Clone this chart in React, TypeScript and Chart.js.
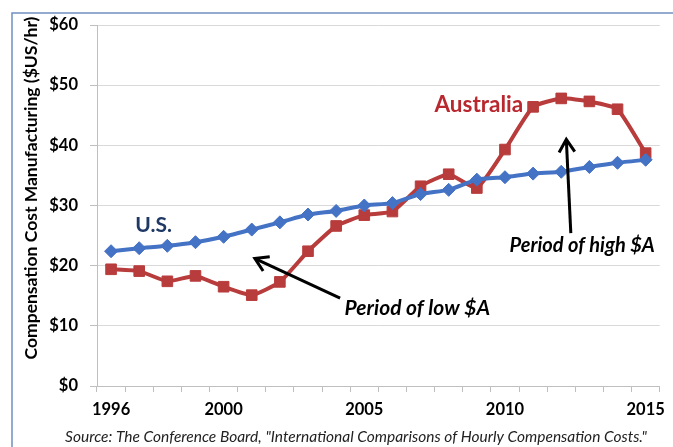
import React, { useEffect, useRef } from 'react';
import { Chart, registerables } from 'chart.js';

Chart.register(...registerables);

const years = ['1996','1997','1998','1999','2000','2001','2002','2003','2004','2005','2006','2007','2008','2009','2010','2011','2012','2013','2014','2015'];
const usValues = [22.4, 22.9, 23.3, 23.9, 24.8, 26.0, 27.2, 28.5, 29.1, 30.0, 30.4, 31.9, 32.6, 34.3, 34.7, 35.3, 35.6, 36.4, 37.1, 37.6];
const ausValues = [19.4, 19.1, 17.4, 18.3, 16.5, 15.1, 17.3, 22.4, 26.6, 28.4, 29.0, 33.2, 35.2, 32.9, 39.3, 46.4, 47.8, 47.3, 46.0, 38.7];
const shownYearLabels = ['1996', '2000', '2005', '2010', '2015'];
const yAxisTitle = 'Compensation Cost Manufacturing ($US/hr)';
const sourceText = 'Source: The Conference Board, "International Comparisons of Hourly Compensation Costs."';

// annotation anchors in data space (x = category index, y = value)
const textNotes = [
  { text: 'U.S.', x: 1.51, y: 26.8, align: 'center', font: 'bold 21px Lato', color: '#1F3864' },
  { text: 'Australia', x: 13.07, y: 46.7, align: 'center', font: 'bold 22.5px Lato', color: '#B8282E' },
  { text: 'Period of low $A', x: 8.3, y: 13.0, align: 'left', font: 'italic bold 21px Lato', color: '#000000' },
  { text: 'Period of high $A', x: 14.16, y: 23.4, align: 'left', font: 'italic bold 20px Lato', color: '#000000' },
];
const arrowNotes = [
  { x1: 8.14, y1: 14.6, x2: 5.11, y2: 21.2 },
  { x1: 16.34, y1: 25.4, x2: 16.18, y2: 41.0 },
];

const decorPlugin = {
  id: 'decor',
  beforeDraw(chart: any) {
    const ctx = chart.ctx;
    ctx.save();
    ctx.fillStyle = '#ffffff';
    ctx.fillRect(0, 0, chart.width, chart.height);
    ctx.strokeStyle = '#7090C0';
    ctx.lineWidth = 1.5;
    ctx.beginPath();
    ctx.moveTo(12, chart.height);
    ctx.lineTo(12, 13);
    ctx.lineTo(chart.width, 13);
    ctx.stroke();
    ctx.restore();
  },
  afterDraw(chart: any) {
    const ctx = chart.ctx;
    const xs = chart.scales.x;
    const ys = chart.scales.y;
    const px = (v: number) => xs.getPixelForValue(0) + v * (xs.getPixelForValue(1) - xs.getPixelForValue(0));
    const py = (v: number) => ys.getPixelForValue(v);
    ctx.save();
    ctx.translate(31, 188);
    ctx.rotate(-Math.PI / 2);
    ctx.font = 'bold 17.5px Lato';
    ctx.fillStyle = '#000000';
    ctx.textAlign = 'center';
    ctx.textBaseline = 'middle';
    ctx.fillText(yAxisTitle, 0, 0);
    ctx.restore();

    ctx.save();
    ctx.font = 'italic 15.5px Lato';
    ctx.fillStyle = '#222222';
    ctx.textAlign = 'center';
    ctx.textBaseline = 'middle';
    ctx.fillText(sourceText, 356, 437);
    ctx.restore();

    ctx.save();
    for (const n of textNotes) {
      ctx.font = n.font;
      ctx.fillStyle = n.color;
      ctx.textAlign = n.align;
      ctx.textBaseline = 'middle';
      ctx.fillText(n.text, px(n.x), py(n.y));
    }
    ctx.strokeStyle = '#000000';
    ctx.lineWidth = 3;
    ctx.lineCap = 'butt';
    ctx.lineJoin = 'miter';
    for (const a of arrowNotes) {
      const x1 = px(a.x1), y1 = py(a.y1), x2 = px(a.x2), y2 = py(a.y2);
      const ang = Math.atan2(y2 - y1, x2 - x1);
      ctx.beginPath();
      ctx.moveTo(x1, y1);
      ctx.lineTo(x2 - Math.cos(ang) * 2, y2 - Math.sin(ang) * 2);
      ctx.stroke();
      const L = 15, w = 0.55;
      ctx.beginPath();
      ctx.moveTo(x2 - L * Math.cos(ang - w), y2 - L * Math.sin(ang - w));
      ctx.lineTo(x2, y2);
      ctx.lineTo(x2 - L * Math.cos(ang + w), y2 - L * Math.sin(ang + w));
      ctx.stroke();
    }
    ctx.restore();
  },
};

export default function App() {
  const ref = useRef<HTMLCanvasElement | null>(null);
  useEffect(() => {
    document.body.style.margin = '0';
    const canvas = ref.current;
    if (!canvas) return;
    const chart = new Chart(canvas, {
      type: 'line',
      data: {
        labels: years,
        datasets: [
          {
            label: 'U.S.',
            data: usValues,
            borderColor: '#4472C4',
            backgroundColor: '#4472C4',
            borderWidth: 4,
            pointStyle: 'rectRot',
            pointRadius: 6.5,
            pointBorderWidth: 1,
            tension: 0.15,
          },
          {
            label: 'Australia',
            data: ausValues,
            borderColor: '#B83C3C',
            backgroundColor: '#B83C3C',
            borderWidth: 4,
            pointStyle: 'rect',
            pointRadius: 7.5,
            pointBorderWidth: 1,
            tension: 0.15,
          },
        ],
      },
      options: {
        animation: false,
        responsive: false,
        devicePixelRatio: 1,
        layout: { padding: { left: 0, right: 6, top: 25, bottom: 0 } },
        plugins: { legend: { display: false }, tooltip: { enabled: false } },
        scales: {
          x: {
            offset: true,
            afterFit: (s: any) => { s.height = 61; },
            grid: {
              offset: true,
              drawOnChartArea: false,
              drawTicks: true,
              tickLength: 6,
              color: '#BFBFBF',
            },
            border: { color: '#BFBFBF', width: 1 },
            ticks: {
              autoSkip: false,
              maxRotation: 0,
              padding: 8,
              color: '#000000',
              font: { family: 'Lato', weight: 'bold', size: 16.5 },
              callback: (_v: any, i: number) => (shownYearLabels.includes(years[i]) ? years[i] : ''),
            },
          },
          y: {
            min: 0,
            max: 60,
            afterFit: (s: any) => { s.width = 97; },
            grid: { color: '#D9D9D9', lineWidth: 1, tickLength: 7, tickColor: '#BFBFBF' },
            border: { color: '#BFBFBF', width: 1 },
            ticks: {
              stepSize: 10,
              padding: 12,
              color: '#000000',
              font: { family: 'Lato', weight: 'bold', size: 16.5 },
              callback: (v: any) => '$' + v,
            },
          },
        },
      },
      plugins: [decorPlugin],
    } as any);
    return () => chart.destroy();
  }, []);
  return (
    <div style={{ width: 673, height: 447, position: 'relative' }}>
      <canvas ref={ref} width={673} height={447} style={{ width: 673, height: 447, display: 'block' }} />
    </div>
  );
}
